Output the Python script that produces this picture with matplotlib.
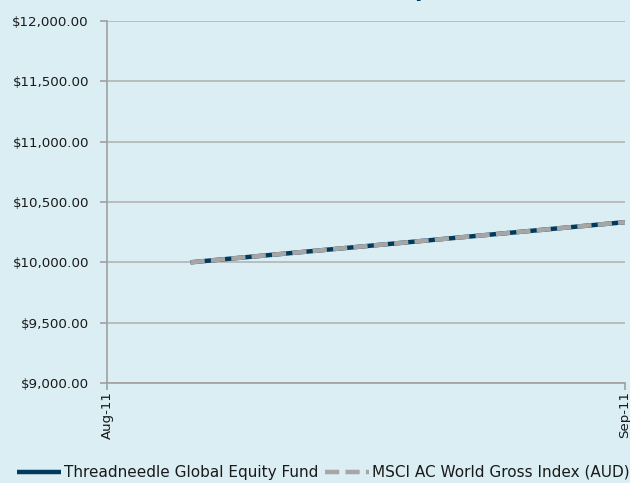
import matplotlib
matplotlib.use("Agg")
import matplotlib.pyplot as plt
import matplotlib.dates as mdates
from matplotlib.ticker import FuncFormatter
import numpy as np

# Growth of a $10,000 investment
dates = np.array(["2011-08-06", "2011-09-01"], dtype="datetime64[D]")
fund_values = [10000.0, 10333.0]
index_values = [10000.0, 10333.0]
fund_name = "Threadneedle Global Equity Fund"
index_name = "MSCI AC World Gross Index (AUD)"
tick_dates = np.array(["2011-08-01", "2011-09-01"], dtype="datetime64[D]")

bg = "#DAEEF3"
navy = "#003A5C"
grey = "#A6A6A6"

plt.rcParams["font.family"] = ["DejaVu Sans"]

fig = plt.figure(figsize=(6.3, 4.83), dpi=100, facecolor=bg)
ax = fig.add_axes([107 / 630, 1 - 383 / 483, 518 / 630, 362 / 483])
ax.set_facecolor(bg)

ax.plot(dates, fund_values, color=navy, lw=3.2, solid_capstyle="butt",
        label=fund_name, zorder=3)
ax.plot(dates, index_values, color=grey, lw=3.2, dashes=(3.2, 1.4),
        label=index_name, zorder=4)

ax.set_ylim(9000, 12000)
ax.set_yticks(np.arange(9000, 12001, 500))
ax.yaxis.set_major_formatter(FuncFormatter(lambda v, p: "${:,.2f}".format(v)))
ax.grid(axis="y", color="#B4B4B4", lw=1.2)
ax.set_axisbelow(True)

ax.set_xlim(tick_dates[0], tick_dates[-1])
ax.set_xticks(tick_dates)
ax.xaxis.set_major_formatter(mdates.DateFormatter("%b-%y"))
plt.setp(ax.get_xticklabels(), rotation=90, va="top", ha="center")

for side in ["top", "right"]:
    ax.spines[side].set_visible(False)
for side in ["left", "bottom"]:
    ax.spines[side].set_color("#A0A0A0")
    ax.spines[side].set_linewidth(1.2)
ax.tick_params(axis="both", colors="#A0A0A0", length=5, width=1.2,
               labelcolor="#1A1A1A", labelsize=9.6)
ax.tick_params(axis="y", pad=8)
ax.tick_params(axis="x", pad=1)

# title sits above the canvas; only its descenders show
fig.text(0.435, 1.0058, "Growth of $10,000 since inception", ha="center",
         va="baseline", fontsize=15, fontweight="bold", color=navy)

fig.legend(loc="lower center", bbox_to_anchor=(0.513, -0.022), ncol=2,
           frameon=False, fontsize=11, handlelength=2.9, handletextpad=0.15,
           columnspacing=0.45, labelcolor="#1A1A1A")

fig.savefig("out.png", dpi=100, facecolor=bg)
